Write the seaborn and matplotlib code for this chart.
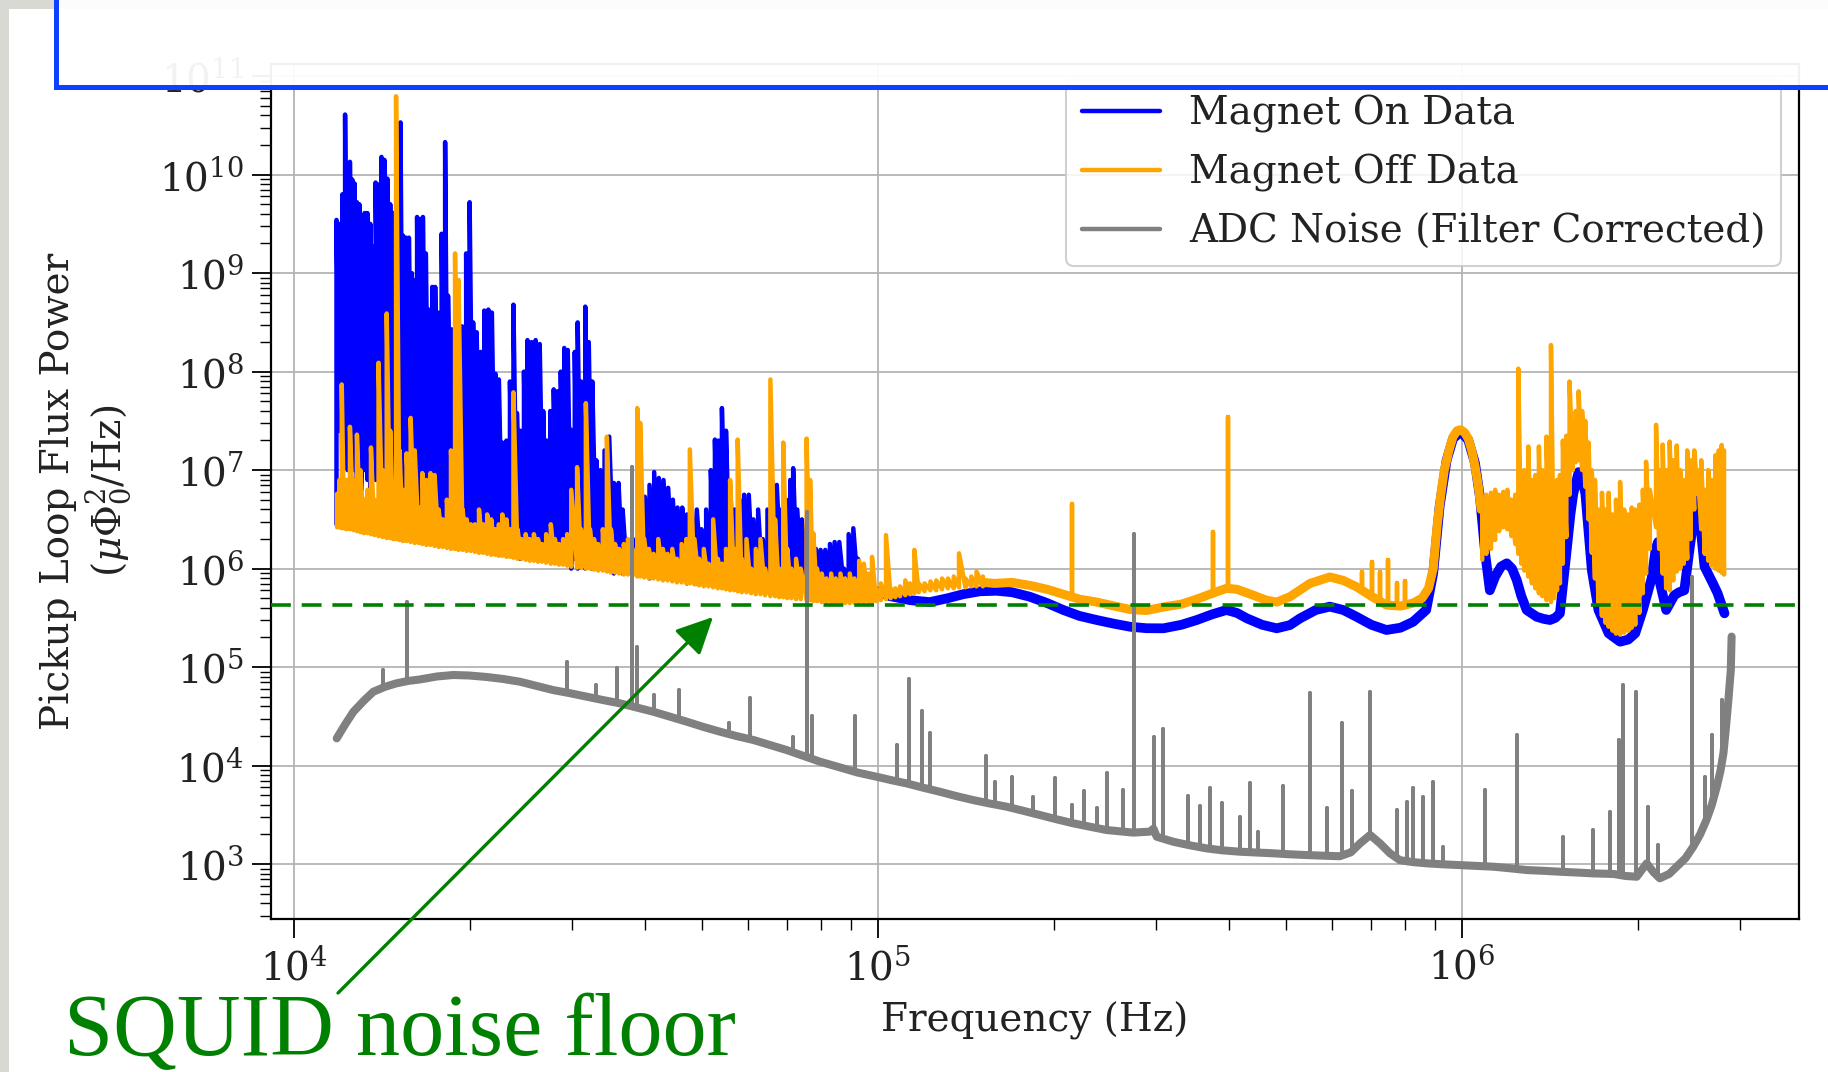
import numpy as np
import pandas as pd
import matplotlib
matplotlib.use("Agg")
import matplotlib.pyplot as plt
import seaborn as sns
from matplotlib.ticker import LogLocator, NullFormatter
from matplotlib.patches import Rectangle, FancyArrowPatch
from matplotlib.lines import Line2D

# ---------------- data (log10 of frequency in Hz, log10 of power) ----------------
# Magnet On: dense spiky region (pairs of trough / peak at each frequency)
blue_spiky_log_f = [4.073, 4.078, 4.083, 4.0877, 4.092, 4.096, 4.100, 4.104, 4.108, 4.112,
                    4.116, 4.121, 4.126, 4.131, 4.135, 4.140, 4.145, 4.150, 4.155, 4.160,
                    4.165, 4.170, 4.176, 4.1826, 4.187, 4.192, 4.197, 4.202, 4.206, 4.211,
                    4.216, 4.221, 4.226, 4.231, 4.237, 4.242, 4.247, 4.253, 4.259, 4.264,
                    4.270, 4.276, 4.282, 4.288, 4.295, 4.301, 4.307, 4.313, 4.320, 4.326,
                    4.333, 4.339, 4.345, 4.351, 4.357, 4.364, 4.370, 4.376, 4.382, 4.388,
                    4.394, 4.400, 4.407, 4.414, 4.421, 4.427, 4.433, 4.439, 4.445, 4.451,
                    4.457, 4.463, 4.469, 4.475, 4.481, 4.486, 4.492, 4.499, 4.505, 4.511,
                    4.518, 4.525, 4.532, 4.540, 4.548, 4.556, 4.563, 4.570, 4.578, 4.586,
                    4.594, 4.601, 4.609, 4.617, 4.625, 4.633, 4.641, 4.649, 4.657, 4.665,
                    4.673, 4.681, 4.690, 4.698, 4.706, 4.714, 4.721, 4.727, 4.733, 4.740,
                    4.747, 4.755, 4.763, 4.771, 4.779, 4.787, 4.795, 4.803, 4.811, 4.819,
                    4.827, 4.835, 4.843, 4.850, 4.855, 4.862, 4.870, 4.878, 4.886, 4.894,
                    4.902, 4.910, 4.918, 4.926, 4.934, 4.942, 4.950, 4.958, 4.966, 4.974, 4.982]
blue_spiky_log_low = [6.45, 7.4, 7.0, 7.3, 7.0, 7.1, 7.2, 7.0, 6.9, 7.2,
                      6.8, 7.0, 6.9, 6.8, 7.1, 6.9, 7.0, 6.8, 7.0, 6.9,
                      6.7, 6.9, 6.6, 6.8, 6.7, 6.6, 6.7, 6.5, 6.6, 6.7,
                      6.5, 6.6, 6.4, 6.5, 6.4, 6.5, 6.4, 6.5, 6.4, 6.3,
                      6.4, 6.3, 6.4, 6.3, 6.4, 6.3, 6.3, 6.2, 6.3, 6.2,
                      6.3, 6.2, 6.2, 6.3, 6.2, 6.2, 6.3, 6.2, 6.2, 6.1,
                      6.2, 6.1, 6.2, 6.1, 6.1, 6.2, 6.1, 6.1, 6.2, 6.1,
                      6.1, 6.1, 6.1, 6.0, 6.1, 6.0, 6.1, 6.0, 6.1, 6.0,
                      6.0, 6.0, 6.0, 6.0, 5.95, 6.0, 5.95, 6.0, 5.95, 5.95,
                      5.95, 5.95, 5.9, 5.95, 5.9, 5.9, 5.9, 5.9, 5.9, 5.9,
                      5.85, 5.9, 5.85, 5.9, 5.85, 5.85, 5.85, 5.85, 5.85, 5.85,
                      5.85, 5.8, 5.85, 5.8, 5.8, 5.8, 5.8, 5.8, 5.8, 5.8,
                      5.8, 5.8, 5.8, 5.8, 5.8, 5.8, 5.8, 5.8, 5.8, 5.8,
                      5.8, 5.8, 5.8, 5.8, 5.8, 5.8, 5.8, 5.8, 5.8, 5.78, 5.78]
blue_spiky_log_high = [9.54, 9.50, 9.80, 10.61, 10.00, 10.13, 9.95, 9.91, 9.72, 9.70,
                       9.20, 9.61, 9.61, 9.50, 9.27, 9.92, 9.90, 10.18, 10.15, 9.96,
                       9.70, 9.61, 9.00, 10.53, 9.38, 9.36, 9.36, 9.00, 8.93, 9.57,
                       9.55, 9.57, 9.20, 8.63, 8.86, 8.86, 8.60, 9.40, 10.33, 8.77,
                       8.43, 8.20, 8.40, 8.46, 9.20, 9.72, 8.50, 8.40, 8.20, 8.62,
                       8.63, 8.60, 7.98, 7.92, 7.28, 7.30, 7.90, 8.68, 7.58, 7.40,
                       8.00, 8.32, 8.30, 8.32, 8.28, 7.60, 7.30, 7.60, 7.82, 7.80,
                       8.00, 8.24, 8.22, 7.41, 8.20, 8.50, 7.90, 8.66, 8.30, 7.90,
                       7.10, 7.00, 7.20, 7.34, 6.87, 6.87, 6.60, 6.30, 6.10, 6.30,
                       6.73, 6.73, 6.85, 6.98, 6.92, 6.90, 6.82, 6.70, 6.62, 6.62,
                       6.55, 6.62, 6.60, 6.40, 6.60, 7.00, 7.31, 7.30, 7.63, 7.40,
                       6.85, 6.60, 6.70, 6.75, 6.75, 6.50, 6.60, 6.30, 6.60, 6.90,
                       6.85, 6.60, 6.70, 6.90, 7.02, 6.60, 6.50, 6.29, 6.29, 6.20,
                       6.19, 6.19, 6.25, 6.27, 6.27, 6.00, 6.35, 6.41, 6.10, 5.90, 5.85]

# Magnet On: smooth band from 100 kHz upward
blue_band_log_f = [4.982, 5.021, 5.055, 5.089, 5.12, 5.146, 5.175, 5.2036, 5.23, 5.26,
                   5.29, 5.3176, 5.345, 5.375, 5.405, 5.432, 5.46, 5.489, 5.52, 5.546,
                   5.572, 5.597, 5.615, 5.632, 5.658, 5.683, 5.7058, 5.723, 5.75, 5.774,
                   5.797, 5.8195, 5.845, 5.8709, 5.895, 5.9165, 5.939, 5.951, 5.962, 5.974,
                   5.985, 5.998, 6.011, 6.0226, 6.031, 6.04, 6.048, 6.057, 6.067, 6.077,
                   6.086, 6.094, 6.102, 6.111, 6.128, 6.14, 6.151, 6.16, 6.168, 6.179,
                   6.186, 6.191, 6.2, 6.206, 6.2115, 6.2226, 6.234, 6.2514, 6.271, 6.285,
                   6.297, 6.31, 6.325, 6.332, 6.336, 6.3395, 6.35, 6.364, 6.372, 6.381,
                   6.39, 6.398, 6.405, 6.41, 6.4156, 6.43, 6.438, 6.4498]
blue_band_log_p = [5.80, 5.72, 5.68, 5.66, 5.70, 5.74, 5.77, 5.775, 5.76, 5.715,
                   5.65, 5.58, 5.52, 5.478, 5.44, 5.41, 5.395, 5.394, 5.43, 5.478,
                   5.535, 5.58, 5.55, 5.495, 5.43, 5.394, 5.427, 5.495, 5.58, 5.614,
                   5.58, 5.512, 5.43, 5.377, 5.40, 5.46, 5.58, 5.952, 6.63, 7.10,
                   7.32, 7.39, 7.306, 7.07, 6.73, 6.155, 5.78, 5.918, 6.02, 6.054,
                   6.00, 5.884, 5.72, 5.58, 5.512, 5.49, 5.478, 5.50, 5.546, 6.155,
                   6.55, 6.765, 6.98, 6.90, 6.765, 5.986, 5.58, 5.343, 5.258, 5.28,
                   5.343, 5.58, 5.90, 6.20, 6.27, 5.85, 5.58, 5.73, 5.76, 5.78,
                   6.20, 6.55, 6.73, 6.35, 6.02, 5.85, 5.75, 5.546]

# Magnet Off: dense low-frequency region (baseline / peak pairs)
orange_lf_log_f = [4.074, 4.078, 4.082, 4.086, 4.090, 4.096, 4.102, 4.108, 4.114, 4.120,
                   4.126, 4.132, 4.138, 4.145, 4.152, 4.159, 4.165, 4.170, 4.175, 4.181,
                   4.187, 4.193, 4.200, 4.207, 4.214, 4.220, 4.227, 4.234, 4.241, 4.248,
                   4.255, 4.262, 4.269, 4.276, 4.282, 4.289, 4.296, 4.303, 4.310, 4.317,
                   4.324, 4.331, 4.338, 4.345, 4.351, 4.357, 4.364, 4.370, 4.376, 4.383,
                   4.390, 4.397, 4.404, 4.411, 4.418, 4.425, 4.432, 4.440, 4.447, 4.454,
                   4.461, 4.468, 4.475, 4.485, 4.492, 4.500, 4.507, 4.514, 4.521, 4.529,
                   4.536, 4.543, 4.550, 4.557, 4.565, 4.572, 4.580, 4.588, 4.593, 4.600,
                   4.608, 4.616, 4.624, 4.632, 4.640, 4.648, 4.656, 4.664, 4.672, 4.678,
                   4.686, 4.694, 4.702, 4.710, 4.718, 4.726, 4.733, 4.740, 4.747, 4.754,
                   4.760, 4.767, 4.775, 4.783, 4.791, 4.799, 4.807, 4.816, 4.824, 4.831,
                   4.838, 4.845, 4.852, 4.860, 4.868, 4.878, 4.884, 4.8895, 4.896, 4.904,
                   4.912, 4.920, 4.928, 4.936, 4.944, 4.952, 4.960, 4.968, 4.976, 4.984,
                   4.990, 4.997, 5.005, 5.014, 5.022, 5.030, 5.038, 5.047, 5.055, 5.0625,
                   5.070, 5.080, 5.090, 5.100, 5.110, 5.120, 5.130, 5.139, 5.150, 5.160,
                   5.169, 5.180]
orange_lf_log_low = [6.42, 6.42, 6.41, 6.41, 6.40, 6.40, 6.39, 6.38, 6.37, 6.36,
                     6.36, 6.35, 6.34, 6.33, 6.32, 6.31, 6.31, 6.30, 6.30, 6.29,
                     6.28, 6.28, 6.27, 6.26, 6.26, 6.25, 6.24, 6.24, 6.23, 6.22,
                     6.22, 6.21, 6.20, 6.20, 6.19, 6.19, 6.18, 6.18, 6.17, 6.16,
                     6.16, 6.15, 6.14, 6.14, 6.13, 6.13, 6.12, 6.12, 6.11, 6.10,
                     6.10, 6.09, 6.08, 6.08, 6.07, 6.07, 6.06, 6.05, 6.05, 6.04,
                     6.04, 6.03, 6.02, 6.01, 6.01, 6.00, 6.00, 5.99, 5.98, 5.98,
                     5.97, 5.96, 5.96, 5.95, 5.94, 5.94, 5.93, 5.92, 5.92, 5.91,
                     5.90, 5.90, 5.89, 5.88, 5.88, 5.87, 5.86, 5.86, 5.85, 5.85,
                     5.84, 5.83, 5.82, 5.82, 5.81, 5.80, 5.80, 5.79, 5.78, 5.78,
                     5.77, 5.76, 5.76, 5.75, 5.74, 5.74, 5.73, 5.72, 5.72, 5.71,
                     5.71, 5.70, 5.70, 5.69, 5.69, 5.68, 5.68, 5.67, 5.67, 5.66,
                     5.66, 5.66, 5.65, 5.65, 5.65, 5.65, 5.65, 5.65, 5.66, 5.66,
                     5.66, 5.67, 5.68, 5.69, 5.70, 5.71, 5.72, 5.73, 5.74, 5.75,
                     5.76, 5.77, 5.78, 5.78, 5.79, 5.80, 5.80, 5.81, 5.81, 5.82,
                     5.82, 5.82]
orange_lf_log_high = [6.76, 6.90, 7.87, 6.80, 6.90, 7.44, 6.90, 7.36, 7.00, 6.70,
                      6.80, 7.23, 6.70, 8.09, 7.00, 8.59, 7.40, 6.80, 10.795, 7.20,
                      6.80, 7.17, 7.53, 7.20, 6.62, 6.97, 6.90, 6.97, 6.95, 6.60,
                      6.50, 6.70, 7.20, 9.20, 8.93, 6.60, 6.50, 6.45, 6.45, 6.60,
                      6.45, 6.55, 6.50, 6.40, 6.45, 6.55, 6.50, 6.40, 7.79, 6.40,
                      6.30, 6.35, 6.30, 6.35, 6.30, 6.25, 6.35, 6.45, 6.30, 6.25,
                      6.30, 6.35, 6.80, 7.03, 6.40, 7.68, 6.40, 6.30, 6.25, 6.40,
                      7.34, 6.40, 6.25, 6.20, 6.25, 6.30, 6.20, 7.63, 7.48, 6.30,
                      6.20, 6.15, 6.30, 6.20, 6.15, 6.20, 6.10, 6.25, 6.30, 7.21,
                      6.30, 6.10, 6.20, 6.05, 6.50, 6.10, 6.05, 6.20, 6.90, 6.20,
                      7.31, 6.10, 6.30, 6.00, 6.20, 6.30, 6.00, 7.92, 6.50, 6.00,
                      7.28, 6.20, 6.00, 6.10, 6.00, 7.32, 6.90, 6.36, 6.00, 5.95,
                      5.90, 5.95, 5.90, 5.95, 5.90, 5.95, 5.90, 6.08, 6.05, 5.95,
                      6.12, 5.80, 5.85, 6.34, 5.80, 5.80, 5.82, 5.88, 5.85, 6.19,
                      5.85, 5.85, 5.87, 5.88, 5.90, 5.90, 5.92, 6.155, 5.90, 5.92,
                      5.97, 5.92]

# Magnet Off: smooth band (100 kHz - 1 MHz, including the 1 MHz resonance)
orange_band_log_f = [5.180, 5.20, 5.23, 5.26, 5.29, 5.3176, 5.345, 5.375, 5.405, 5.432,
                     5.46, 5.489, 5.52, 5.546, 5.5734, 5.597, 5.615, 5.643, 5.665, 5.683,
                     5.7058, 5.74, 5.774, 5.797, 5.8195, 5.845, 5.871, 5.895, 5.9165, 5.932,
                     5.943, 5.951, 5.958, 5.964, 5.970, 5.978, 5.985, 5.992, 5.998, 6.005,
                     6.011, 6.017, 6.0226, 6.028, 6.033]
orange_band_log_p = [5.86, 5.85, 5.86, 5.83, 5.79, 5.74, 5.69, 5.66, 5.62, 5.585,
                     5.575, 5.61, 5.64, 5.69, 5.75, 5.80, 5.79, 5.73, 5.68, 5.66,
                     5.715, 5.85, 5.915, 5.88, 5.816, 5.72, 5.63, 5.62, 5.65, 5.70,
                     5.80, 6.00, 6.45, 6.75, 7.00, 7.20, 7.34, 7.40, 7.41, 7.38,
                     7.32, 7.20, 7.04, 6.85, 6.60]

# Magnet Off: isolated lines on the smooth band
orange_line_log_f = [5.332, 5.5734, 5.600, 5.8285, 5.8457, 5.860, 5.873, 5.8885, 5.9027]
orange_line_log_base = [5.73, 5.75, 5.80, 5.79, 5.72, 5.68, 5.64, 5.62, 5.62]
orange_line_log_top = [6.66, 6.375, 7.54, 5.97, 6.07, 5.97, 6.09, 5.85, 5.87]

# Magnet Off: dense high-frequency region above 1 MHz
orange_hf_log_f = [6.035, 6.042, 6.050, 6.057, 6.064, 6.071, 6.078, 6.085, 6.0915, 6.0967,
                   6.102, 6.107, 6.1138, 6.120, 6.126, 6.132, 6.138, 6.145, 6.1527, 6.158,
                   6.163, 6.168, 6.173, 6.179, 6.1845, 6.190, 6.195, 6.200, 6.206, 6.2115,
                   6.217, 6.2226, 6.228, 6.234, 6.240, 6.246, 6.2514, 6.258, 6.264, 6.271,
                   6.278, 6.285, 6.291, 6.297, 6.304, 6.310, 6.3155, 6.322, 6.3326, 6.338,
                   6.344, 6.350, 6.356, 6.362, 6.368, 6.374, 6.380, 6.386, 6.392, 6.398,
                   6.404, 6.410, 6.416, 6.422, 6.428, 6.434, 6.440, 6.445, 6.449]
orange_hf_log_low = [6.09, 6.15, 6.20, 6.29, 6.38, 6.42, 6.40, 6.33, 6.25, 6.15,
                     6.05, 5.98, 5.92, 5.85, 5.80, 5.75, 5.72, 5.68, 5.66, 5.70,
                     5.78, 5.85, 6.05, 6.32, 6.75, 7.00, 7.08, 7.10, 7.00, 6.83,
                     6.50, 6.16, 5.90, 5.65, 5.52, 5.45, 5.41, 5.37, 5.34, 5.33,
                     5.35, 5.37, 5.40, 5.43, 5.55, 5.75, 5.95, 6.20, 6.42, 6.20,
                     5.95, 5.80, 5.78, 5.88, 5.97, 6.00, 6.05, 6.10, 6.30, 6.60,
                     6.76, 6.40, 6.15, 6.08, 6.03, 6.00, 5.98, 5.96, 5.94]
orange_hf_log_high = [6.70, 6.75, 6.77, 6.80, 6.75, 6.78, 6.80, 6.70, 6.75, 8.03,
                      6.90, 7.00, 7.24, 6.90, 6.95, 7.24, 7.00, 7.34, 8.27, 6.80,
                      6.90, 6.95, 7.30, 7.35, 7.90, 7.50, 7.60, 7.80, 7.60, 7.50,
                      7.28, 7.00, 6.90, 6.60, 6.77, 6.60, 6.77, 6.55, 6.70, 6.88,
                      6.60, 6.55, 6.62, 6.60, 6.65, 6.80, 7.085, 6.80, 7.46, 7.00,
                      7.26, 7.00, 7.29, 7.10, 7.25, 7.00, 6.90, 7.20, 7.10, 7.20,
                      7.00, 7.10, 6.80, 7.00, 6.90, 7.15, 7.20, 7.255, 7.20]

# ADC noise: smooth floor
adc_floor_log_f = [4.0734, 4.088, 4.102, 4.12, 4.136, 4.156, 4.176, 4.196, 4.216, 4.245,
                   4.273, 4.30, 4.330, 4.358, 4.387, 4.415, 4.444, 4.473, 4.5015, 4.53,
                   4.5586, 4.587, 4.6156, 4.644, 4.6728, 4.70, 4.73, 4.758, 4.787, 4.815,
                   4.844, 4.872, 4.901, 4.935, 4.965, 4.998, 5.025, 5.049, 5.077, 5.106,
                   5.135, 5.1635, 5.192, 5.2207, 5.25, 5.278, 5.306, 5.335, 5.363, 5.392,
                   5.4375, 5.466, 5.472, 5.4776, 5.506, 5.535, 5.563, 5.59, 5.62, 5.648,
                   5.677, 5.705, 5.734, 5.762, 5.791, 5.81, 5.8256, 5.843, 5.86, 5.877,
                   5.894, 5.917, 5.94, 5.968, 5.997, 6.025, 6.054, 6.082, 6.111, 6.14,
                   6.168, 6.196, 6.225, 6.26, 6.28, 6.2995, 6.3166, 6.328, 6.339, 6.355,
                   6.368, 6.383, 6.3963, 6.408, 6.419, 6.428, 6.4366, 6.443, 6.448, 6.4525,
                   6.4565, 6.4606, 6.462]
adc_floor_log_p = [4.277, 4.42, 4.547, 4.66, 4.75, 4.80, 4.836, 4.86, 4.875, 4.905,
                   4.92, 4.915, 4.90, 4.88, 4.852, 4.81, 4.767, 4.735, 4.70, 4.665,
                   4.632, 4.59, 4.547, 4.497, 4.446, 4.395, 4.344, 4.30, 4.26, 4.21,
                   4.158, 4.10, 4.04, 3.982, 3.93, 3.887, 3.85, 3.82, 3.777, 3.735,
                   3.69, 3.65, 3.615, 3.583, 3.54, 3.498, 3.455, 3.414, 3.38, 3.346,
                   3.32, 3.33, 3.36, 3.278, 3.227, 3.19, 3.16, 3.14, 3.126, 3.118,
                   3.11, 3.10, 3.092, 3.086, 3.08, 3.12, 3.21, 3.296, 3.21, 3.11,
                   3.04, 3.02, 3.008, 2.998, 2.99, 2.982, 2.974, 2.958, 2.94, 2.932,
                   2.923, 2.915, 2.906, 2.90, 2.88, 2.872, 3.008, 2.92, 2.856, 2.90,
                   2.974, 3.06, 3.177, 3.30, 3.45, 3.60, 3.786, 3.95, 4.125, 4.40,
                   4.666, 4.97, 5.31]

# ADC noise: narrow lines
adc_line_log_f = [4.152, 4.194, 4.467, 4.517, 4.553, 4.5786, 4.587, 4.616, 4.66, 4.7457,
                  4.781, 4.855, 4.878, 4.887, 4.961, 5.033, 5.054, 5.075, 5.089, 5.1855,
                  5.2, 5.23, 5.266, 5.303, 5.332, 5.353, 5.375, 5.392, 5.42, 5.4387,
                  5.4735, 5.489, 5.5317, 5.5517, 5.569, 5.589, 5.62, 5.637, 5.651, 5.694,
                  5.74, 5.77, 5.794, 5.8116, 5.843, 5.8886, 5.906, 5.917, 5.934, 5.951,
                  5.968, 6.04, 6.095, 6.174, 6.225, 6.254, 6.27, 6.2765, 6.298, 6.319,
                  6.3356, 6.395, 6.4165, 6.428, 6.445]
adc_line_log_base = [4.79, 4.86, 4.75, 4.68, 4.64, 4.60, 4.59, 4.547, 4.47, 4.32,
                     4.27, 4.14, 4.09, 4.07, 3.94, 3.84, 3.81, 3.78, 3.76, 3.625,
                     3.605, 3.57, 3.515, 3.46, 3.42, 3.39, 3.365, 3.346, 3.33, 3.32,
                     3.30, 3.26, 3.195, 3.17, 3.155, 3.14, 3.126, 3.12, 3.117, 3.10,
                     3.09, 3.085, 3.085, 3.13, 3.296, 3.06, 3.03, 3.02, 3.01, 3.005,
                     2.998, 2.978, 2.95, 2.92, 2.906, 2.90, 2.89, 2.885, 2.872, 2.98,
                     2.88, 3.17, 3.42, 3.60, 4.00]
adc_line_log_top = [4.97, 5.664, 5.055, 4.82, 4.99, 7.03, 5.207, 4.717, 4.768, 4.43,
                    4.683, 4.29, 6.57, 4.50, 4.50, 4.21, 4.876, 4.55, 4.334, 4.10,
                    3.836, 3.887, 3.684, 3.877, 3.60, 3.742, 3.567, 3.922, 3.75, 6.355,
                    4.293, 4.368, 3.69, 3.59, 3.776, 3.624, 3.48, 3.82, 3.33, 3.793,
                    4.734, 3.567, 4.436, 3.742, 4.75, 3.55, 3.634, 3.77, 3.684, 3.836,
                    3.177, 3.75, 4.31, 3.28, 3.346, 3.532, 4.26, 4.82, 4.75, 3.583,
                    3.19, 5.917, 3.887, 4.31, 4.666]

squid_noise_floor = 4.3e5
legend_labels = ["Magnet On Data", "Magnet Off Data", "ADC Noise (Filter Corrected)"]

# ---------------- helpers to build frames from the lists ----------------
def pair_frame(lf, lo, hi):
    f = np.repeat(np.asarray(lf), 2)
    p = np.column_stack([lo, hi]).ravel()
    return pd.DataFrame({"freq": 10.0 ** f, "power": 10.0 ** p})

def curve_frame(lf, lp):
    return pd.DataFrame({"freq": 10.0 ** np.asarray(lf), "power": 10.0 ** np.asarray(lp)})

def line_frame(lf, base, top):
    f = np.repeat(np.asarray(lf), 3)
    p = np.column_stack([base, top, base]).ravel()
    u = np.repeat(np.arange(len(lf)), 3)
    return pd.DataFrame({"freq": 10.0 ** f, "power": 10.0 ** p, "unit": u})

# ---------------- figure ----------------
sns.set_style("ticks")
plt.rcParams["font.family"] = ["DejaVu Serif", "DejaVu Sans"]
plt.rcParams["mathtext.fontset"] = "dejavuserif"

FS = 28
W, H = 1828, 1072
fig = plt.figure(figsize=(W / 100, H / 100), dpi=100)
fig.patch.set_facecolor("#d9d9d4")
fig.patches.append(Rectangle((9 / W, 0), 1, 1 - 9 / H, transform=fig.transFigure,
                             facecolor="white", edgecolor="none", zorder=-10))

ax = fig.add_axes([270.5 / W, 1 - 918.6 / H, (1799 - 270.5) / W, (918.6 - 63.5) / H])
ax.set_xscale("log")
ax.set_yscale("log")
ax.set_facecolor("white")

BLUE, ORANGE, GREY, GREEN = "#0000ff", "#ffa500", "#808080", "#008000"
thin = 3.2

def draw(df, color, lw, z, units=None):
    sns.lineplot(data=df, x="freq", y="power", units=units, estimator=None, sort=False,
                 color=color, linewidth=lw, ax=ax, zorder=z, legend=False)

draw(pair_frame(blue_spiky_log_f, blue_spiky_log_low, blue_spiky_log_high), BLUE, thin, 2.0)
draw(curve_frame(blue_band_log_f, blue_band_log_p), BLUE, 7.0, 2.0)

draw(pair_frame(orange_lf_log_f, orange_lf_log_low, orange_lf_log_high), ORANGE, thin, 2.2)
draw(curve_frame(orange_band_log_f, orange_band_log_p), ORANGE, 6.5, 2.2)
draw(line_frame(orange_line_log_f, orange_line_log_base, orange_line_log_top), ORANGE, thin, 2.2, units="unit")
draw(pair_frame(orange_hf_log_f, orange_hf_log_low, orange_hf_log_high), ORANGE, thin, 2.2)

draw(curve_frame(adc_floor_log_f, adc_floor_log_p), GREY, 5.8, 2.4)
draw(line_frame(adc_line_log_f, adc_line_log_base, adc_line_log_top), GREY, 2.8, 2.4, units="unit")

ax.axhline(squid_noise_floor, color=GREEN, lw=2.6, ls=(0, (5.5, 3.0)), zorder=3)

ax.set_xlim(10 ** 3.960, 10 ** 6.5774)
ax.set_ylim(10 ** 2.447, 10 ** 11.128)

ax.xaxis.set_major_locator(LogLocator(base=10, numticks=20))
ax.xaxis.set_minor_locator(LogLocator(base=10, subs=np.arange(2, 10), numticks=100))
ax.yaxis.set_major_locator(LogLocator(base=10, numticks=20))
ax.yaxis.set_minor_locator(LogLocator(base=10, subs=np.arange(2, 10), numticks=100))
ax.xaxis.set_minor_formatter(NullFormatter())
ax.yaxis.set_minor_formatter(NullFormatter())

ax.grid(True, which="major", color="#b4b4b4", lw=1.3)
ax.set_axisbelow(True)
ax.tick_params(axis="both", which="major", direction="out", length=14, width=1.3,
               labelsize=FS, pad=5, color="black", labelcolor="#222222",
               top=False, right=False)
ax.tick_params(axis="x", which="major", pad=7)
ax.tick_params(axis="both", which="minor", direction="out", length=8, width=1.0,
               top=False, right=False, color="black")
for s in ax.spines.values():
    s.set_color("black")
    s.set_linewidth(1.6)

ax.set_xlabel("Frequency (Hz)", fontsize=FS, color="#222222")
ax.set_ylabel("Pickup Loop Flux Power\n($\\mu\\Phi_0^2$/Hz)", fontsize=FS, color="#222222")
ax.xaxis.set_label_coords(0.5, -0.097)
ax.yaxis.set_label_coords(-0.089, 0.5)

handles = [Line2D([], [], color=c, lw=3.2) for c in (BLUE, ORANGE, GREY)]
leg = ax.legend(handles, legend_labels, loc="lower right",
                bbox_to_anchor=(1781 / W, 1 - 266 / H), bbox_transform=fig.transFigure,
                borderaxespad=0, fontsize=FS, frameon=True, fancybox=True, shadow=False,
                framealpha=0.85, edgecolor="#c8c8c8", facecolor="white", handlelength=2.0,
                handletextpad=0.75, labelspacing=0.55, borderpad=0.4)
leg.get_frame().set_linewidth(1.5)
for t in leg.get_texts():
    t.set_color("#222222")
leg.set_zorder(6)

# overlay box from the slide
fig.patches.append(Rectangle((56 / W, 1 - 87 / H), 1.2, 0.3, transform=fig.transFigure,
                             facecolor=(1, 1, 1, 0.95), edgecolor="#1040ff", lw=3.6,
                             zorder=20, clip_on=False))

# annotation
fig.text(64 / W, 1 - 1055 / H, "SQUID noise floor", fontsize=63.5,
         family=["Liberation Serif", "DejaVu Serif"], color=GREEN,
         ha="left", va="baseline", zorder=21)
fig.patches.append(FancyArrowPatch(posA=(338 / W, 1 - 993 / H), posB=(713 / W, 1 - 617 / H),
                                   transform=fig.transFigure,
                                   arrowstyle="-|>,head_length=0.45,head_width=0.22",
                                   mutation_scale=50, color=GREEN, lw=2.4,
                                   shrinkA=0, shrinkB=0, zorder=21))

fig.savefig("out.png", dpi=100, facecolor=fig.get_facecolor())
